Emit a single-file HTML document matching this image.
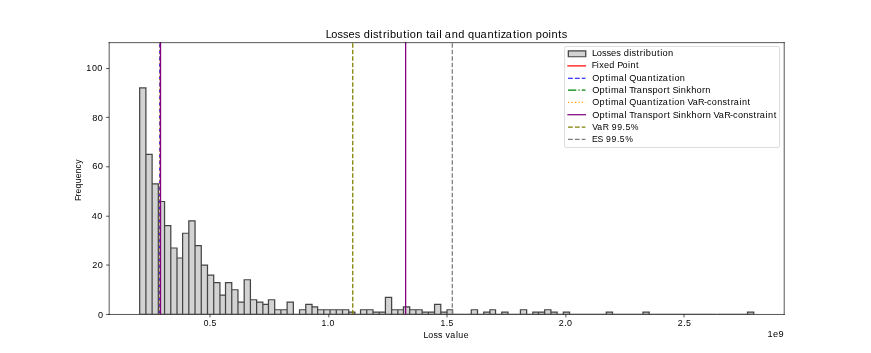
<!DOCTYPE html>
<html><head><meta charset="utf-8"><title>Losses distribution tail and quantization points</title>
<style>html,body{margin:0;padding:0;background:#fff;width:871px;height:353px;overflow:hidden}</style>
</head><body>
<svg width="871" height="353" viewBox="0 0 1400 600" preserveAspectRatio="none" style="display:block;will-change:transform" font-family="'Liberation Sans', sans-serif"><g><rect width="1400" height="600" fill="#fff"/><defs><clipPath id="c"><rect x="175" y="72" width="1085" height="462"/></clipPath></defs>
<path clip-path="url(#c)" d="M224.5 534.5H234.5V149.5H224.5ZM234.5 534.5H244.5V262.5H234.5ZM244.5 534.5H254.5V312.5H244.5ZM254.5 534.5H264.5V342.5H254.5ZM264.5 534.5H274.5V383.5H264.5ZM274.5 534.5H284.5V421.5H274.5ZM284.5 534.5H293.5V438.5H284.5ZM293.5 534.5H303.5V396.5H293.5ZM303.5 534.5H313.5V375.5H303.5ZM313.5 534.5H323.5V417.5H313.5ZM323.5 534.5H333.5V450.5H323.5ZM333.5 534.5H343.5V467.5H333.5ZM343.5 534.5H353.5V480.5H343.5ZM353.5 534.5H362.5V501.5H353.5ZM362.5 534.5H372.5V480.5H362.5ZM372.5 534.5H382.5V492.5H372.5ZM382.5 534.5H392.5V513.5H382.5ZM392.5 534.5H402.5V475.5H392.5ZM402.5 534.5H412.5V509.5H402.5ZM412.5 534.5H422.5V513.5H412.5ZM422.5 534.5H431.5V517.5H422.5ZM431.5 534.5H441.5V509.5H431.5ZM441.5 534.5H451.5V526.5H441.5ZM451.5 534.5H461.5V526.5H451.5ZM461.5 534.5H471.5V513.5H461.5ZM471.5 534.5H481.5V534.5H471.5ZM481.5 534.5H491.5V526.5H481.5ZM491.5 534.5H501.5V517.5H491.5ZM501.5 534.5H510.5V521.5H501.5ZM510.5 534.5H520.5V526.5H510.5ZM520.5 534.5H530.5V526.5H520.5ZM530.5 534.5H540.5V526.5H530.5ZM540.5 534.5H550.5V526.5H540.5ZM550.5 534.5H560.5V526.5H550.5ZM560.5 534.5H570.5V530.5H560.5ZM570.5 534.5H579.5V534.5H570.5ZM579.5 534.5H589.5V526.5H579.5ZM589.5 534.5H599.5V526.5H589.5ZM599.5 534.5H609.5V530.5H599.5ZM609.5 534.5H619.5V530.5H609.5ZM619.5 534.5H629.5V505.5H619.5ZM629.5 534.5H639.5V526.5H629.5ZM639.5 534.5H648.5V526.5H639.5ZM648.5 534.5H658.5V521.5H648.5ZM658.5 534.5H668.5V526.5H658.5ZM668.5 534.5H678.5V526.5H668.5ZM678.5 534.5H688.5V530.5H678.5ZM688.5 534.5H698.5V530.5H688.5ZM698.5 534.5H708.5V517.5H698.5ZM708.5 534.5H718.5V530.5H708.5ZM718.5 534.5H727.5V526.5H718.5ZM727.5 534.5H737.5V534.5H727.5ZM737.5 534.5H747.5V534.5H737.5ZM747.5 534.5H757.5V534.5H747.5ZM757.5 534.5H767.5V526.5H757.5ZM767.5 534.5H777.5V534.5H767.5ZM777.5 534.5H787.5V530.5H777.5ZM787.5 534.5H796.5V526.5H787.5ZM796.5 534.5H806.5V534.5H796.5ZM806.5 534.5H816.5V530.5H806.5ZM816.5 534.5H826.5V534.5H816.5ZM826.5 534.5H836.5V534.5H826.5ZM836.5 534.5H846.5V526.5H836.5ZM846.5 534.5H856.5V534.5H846.5ZM856.5 534.5H865.5V530.5H856.5ZM865.5 534.5H875.5V530.5H865.5ZM875.5 534.5H885.5V526.5H875.5ZM885.5 534.5H895.5V530.5H885.5ZM895.5 534.5H905.5V534.5H895.5ZM905.5 534.5H915.5V530.5H905.5ZM915.5 534.5H925.5V534.5H915.5ZM925.5 534.5H935.5V534.5H925.5ZM935.5 534.5H944.5V534.5H935.5ZM944.5 534.5H954.5V534.5H944.5ZM954.5 534.5H964.5V534.5H954.5ZM964.5 534.5H974.5V534.5H964.5ZM974.5 534.5H984.5V530.5H974.5ZM984.5 534.5H994.5V534.5H984.5ZM994.5 534.5H1004.5V534.5H994.5ZM1004.5 534.5H1013.5V534.5H1004.5ZM1013.5 534.5H1023.5V534.5H1013.5ZM1023.5 534.5H1033.5V534.5H1023.5ZM1033.5 534.5H1043.5V530.5H1033.5ZM1043.5 534.5H1053.5V534.5H1043.5ZM1053.5 534.5H1063.5V534.5H1053.5ZM1063.5 534.5H1073.5V534.5H1063.5ZM1073.5 534.5H1082.5V534.5H1073.5ZM1082.5 534.5H1092.5V534.5H1082.5ZM1092.5 534.5H1102.5V534.5H1092.5ZM1102.5 534.5H1112.5V534.5H1102.5ZM1112.5 534.5H1122.5V534.5H1112.5ZM1122.5 534.5H1132.5V534.5H1122.5ZM1132.5 534.5H1142.5V534.5H1132.5ZM1142.5 534.5H1151.5V534.5H1142.5ZM1152.5 534.5H1161.5V534.5H1152.5ZM1161.5 534.5H1171.5V534.5H1161.5ZM1171.5 534.5H1181.5V534.5H1171.5ZM1181.5 534.5H1191.5V534.5H1181.5ZM1191.5 534.5H1201.5V534.5H1191.5ZM1201.5 534.5H1211.5V530.5H1201.5Z" fill="#d3d3d3" stroke="#444444" stroke-width="2.01" stroke-linejoin="miter"/>
<path clip-path="url(#c)" d="M257 534 L257 72" stroke="#0000ff" stroke-width="2.08" fill="none" stroke-dasharray="7.71,3.33"/>
<path clip-path="url(#c)" d="M257 534 L257 72" stroke="#ffa500" stroke-width="2.08" fill="none" stroke-dasharray="2.08,3.44"/>
<path clip-path="url(#c)" d="M258 534 L258 72" stroke="#800080" stroke-width="2.08" fill="none" stroke-linecap="square"/>
<path clip-path="url(#c)" d="M652 534 L652 72" stroke="#800080" stroke-width="2.08" fill="none" stroke-linecap="square"/>
<path clip-path="url(#c)" d="M567 534 L567 72" stroke="#808000" stroke-width="2.08" fill="none" stroke-dasharray="7.71,3.33"/>
<path clip-path="url(#c)" d="M727 534 L727 72" stroke="#808080" stroke-width="2.08" fill="none" stroke-dasharray="7.71,3.33"/>
<path d="M175.5 534.5L175.5 72.5" stroke="#000" stroke-width="1.11" stroke-linecap="square"/>
<path d="M1260.5 534.5L1260.5 72.5" stroke="#000" stroke-width="1.11" stroke-linecap="square"/>
<path d="M175.5 534.5L1260.5 534.5" stroke="#000" stroke-width="1.11" stroke-linecap="square"/>
<path d="M175.5 72.5L1260.5 72.5" stroke="#000" stroke-width="1.11" stroke-linecap="square"/>
<path d="M337.5 534.5V539.5M528.5 534.5V539.5M718.5 534.5V539.5M909.5 534.5V539.5M1099.5 534.5V539.5M175.5 534.5H170.5M175.5 450.5H170.5M175.5 367.5H170.5M175.5 283.5H170.5M175.5 199.5H170.5M175.5 116.5H170.5" stroke="#000" stroke-width="1.11"/>
<text transform="translate(0 63.99) scale(0.9176 1)" x="570.4 580.35 591.25 600.8 610.57 621.54 630.19 637.07 648.63 653.33 663.67 670.8 677.83 683 694.3 706.24 712.89 717.75 729.04 738.69 746.63 752.41 764.33 769.37 772.44 779.29 791.26 802.58 812.28 819.77 831.29 841.91 853.89 865.75 872.4 877.09 886.12 898.49 905.15 910 921.29 930.94 938.56 949.71 960.95 966.04 977.9 984.2" font-size="19.31" fill="#000">Losses distribution tail and quantization points</text>
<text transform="translate(0 573.85) scale(0.9493 1)" x="717.2 725.24 734.1 741.65 748.51 754.26 762.19 771.91 776.1 785.3" font-size="14.98" fill="#000">Loss value</text>
<text transform="translate(130.99 340) rotate(-90) scale(0.9967 1)" x="-1.86 6.25 11.24 19.68 28.51 37.1 45.64 53.94 61.94" font-size="14.52" fill="#000">Frequency</text>
<text transform="translate(0 572.86) scale(1.0550 1)" x="1169.4 1177.88 1186.1" font-size="14.12" fill="#000">1e9</text>
<text transform="translate(0 554.86) scale(0.9702 1)" x="337.6 346.02 350.51" font-size="14.12" fill="#000">0.5</text>
<text transform="translate(0 554.86) scale(0.9861 1)" x="524.16 532.73 537.23" font-size="14.12" fill="#000">1.0</text>
<text transform="translate(0 554.86) scale(0.9596 1)" x="737.73 746.61 751.3" font-size="14.33" fill="#000">1.5</text>
<text transform="translate(0 554.86) scale(1.0214 1)" x="879.36 887.9 892.37" font-size="14.12" fill="#000">2.0</text>
<text transform="translate(0 554.86) scale(1.0091 1)" x="1079.44 1088.15 1092.75" font-size="14.12" fill="#000">2.5</text>
<text transform="translate(0 539.86) scale(1.0368 1)" x="151.84" font-size="14.12" fill="#000">0</text>
<text transform="translate(0 455.86) scale(1.0413 1)" x="142.32 151.09" font-size="14.12" fill="#000">20</text>
<text transform="translate(0 371.86) scale(1.0375 1)" x="142.32 150.76" font-size="14.12" fill="#000">40</text>
<text transform="translate(0 287.86) scale(1.0664 1)" x="139.06 147.48" font-size="14.12" fill="#000">60</text>
<text transform="translate(0 204.86) scale(1.0522 1)" x="141.01 149.52" font-size="14.12" fill="#000">80</text>
<text transform="translate(0 120.86) scale(1.0215 1)" x="135.88 144.63 153.19" font-size="14.12" fill="#000">100</text>
<path d="M910.21 250.67L1250.28 250.67Q1253.06 250.67 1253.06 247.89L1253.06 81.72Q1253.06 78.94 1250.28 78.94L910.21 78.94Q907.43 78.94 907.43 81.72L907.43 247.89Q907.43 250.67 910.21 250.67Z" fill="#ffffff" fill-opacity="0.8" stroke="#cccccc" stroke-opacity="0.8" stroke-width="1.39"/>
<path d="M913.5 96.5H941.5V86.5H913.5Z" fill="#d3d3d3" stroke="#444444" stroke-width="2.01" stroke-linejoin="miter"/>
<path d="M913 112 L927 112 L941 112" stroke="#ff0000" stroke-width="2.08" fill="none" stroke-linecap="square"/>
<path d="M913 133 L927 133 L941 133" stroke="#0000ff" stroke-width="2.08" fill="none" stroke-dasharray="7.71,3.33"/>
<path d="M913 153 L927 153 L941 153" stroke="#008000" stroke-width="2.08" fill="none" stroke-dasharray="13.33,3.33,2.08,3.33"/>
<path d="M913 174 L927 174 L941 174" stroke="#ffa500" stroke-width="2.08" fill="none" stroke-dasharray="2.08,3.44"/>
<path d="M913 195 L927 195 L941 195" stroke="#800080" stroke-width="2.08" fill="none" stroke-linecap="square"/>
<path d="M913 216 L927 216 L941 216" stroke="#808000" stroke-width="2.08" fill="none" stroke-dasharray="7.71,3.33"/>
<path d="M913 237 L927 237 L941 237" stroke="#808080" stroke-width="2.08" fill="none" stroke-dasharray="7.71,3.33"/>
<text transform="translate(0 95.85) scale(0.9976 1)" x="953.92 961.59 970.06 977.26 984.62 993.04 999.76 1004.86 1013.91 1017.54 1025.36 1030.94 1036.38 1040.38 1049.22 1058.44 1063.66 1067.41 1076.18" font-size="14.98" fill="#000">Losses distribution</text>
<text transform="translate(0 115.85) scale(0.9743 1)" x="976.23 984.29 988.45 996.42 1005.26 1012.87 1018.27 1027.09 1036 1040.1 1049.45" font-size="14.98" fill="#000">Fixed Point</text>
<text transform="translate(0 136.88) scale(0.9767 1)" x="974.69 986.52 995.87 1001.16 1005.55 1018.34 1027.85 1030.26 1035.78 1047.48 1055.81 1065.39 1074.67 1079.96 1083.68 1090.85 1100.72 1106.01 1109.86 1118.77" font-size="15.02" fill="#000">Optimal Quantization</text>
<text transform="translate(0 157.88) scale(0.9884 1)" x="963.1 974.76 983.99 989.21 993.45 1006.05 1015.46 1017.86 1023.21 1030.72 1035.47 1044.89 1053.43 1060.98 1069.71 1078.82 1084.6 1089.24 1093.47 1103.08 1107 1115.95 1124.02 1132.7 1141.81 1147.02" font-size="15.02" fill="#000">Optimal Transport Sinkhorn</text>
<text transform="translate(0 178.88) scale(0.9699 1)" x="981.6 993.49 1002.87 1008.19 1012.63 1025.47 1035.02 1037.44 1043.02 1054.78 1063.15 1072.77 1082.09 1087.42 1091.16 1098.37 1108.29 1113.61 1117.49 1126.45 1134.02 1139.49 1147.92 1156.94 1166.65 1171.62 1179.68 1188.64 1197.36 1205.32 1211.03 1215.92 1225.48 1229.55 1238.87" font-size="15.02" fill="#000">Optimal Quantization VaR-constraint</text>
<text transform="translate(0 199.88) scale(0.9815 1)" x="969.9 981.67 990.98 996.24 1000.58 1013.3 1022.77 1025.18 1030.64 1038.21 1043.03 1052.55 1061.17 1068.82 1077.63 1086.82 1092.66 1097.33 1101.66 1111.33 1115.32 1124.36 1132.52 1141.29 1150.49 1155.77 1163.3 1168.65 1177 1185.9 1195.54 1200.43 1208.41 1217.27 1225.89 1233.78 1239.42 1244.24 1253.72 1257.71 1266.95" font-size="15.02" fill="#000">Optimal Transport Sinkhorn VaR-constraint</text>
<text transform="translate(0 220.86) scale(0.9907 1)" x="960.88 969.09 977.92 987.34 992.49 1001.43 1010.14 1014.76 1023.47" font-size="14.12" fill="#000">VaR 99.5%</text>
<text transform="translate(0 241.86) scale(0.9789 1)" x="971.95 981.04 989.5 995.16 1004.25 1013.08 1017.81 1026.72" font-size="14.12" fill="#000">ES 99.5%</text></g></svg>
</body></html>
